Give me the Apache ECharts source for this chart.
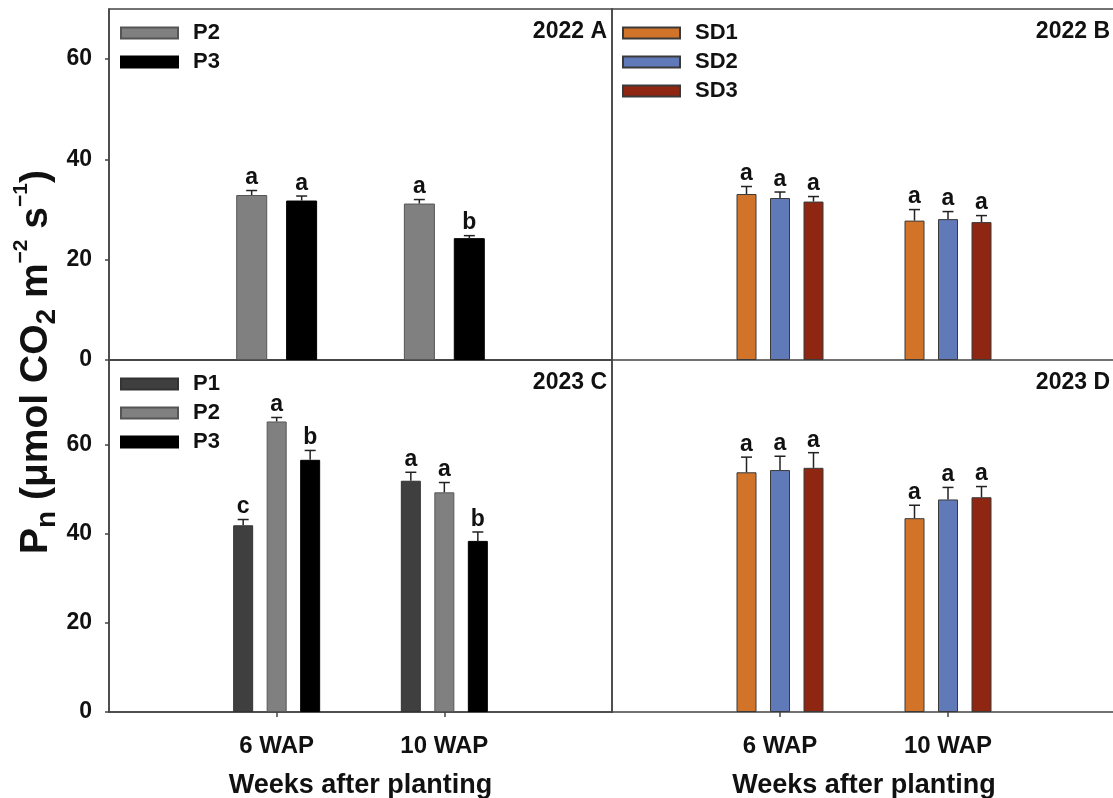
<!DOCTYPE html>
<html>
<head>
<meta charset="utf-8">
<title>Pn by planting and seeding density</title>
<script src="https://cdn.jsdelivr.net/npm/echarts@6/dist/echarts.min.js"></script>
<style>
	html, body { margin: 0; padding: 0; background: #fff; }
	#main { width: 1113px; height: 798px; }
</style>
</head>
<body>
<div id="main"></div>
<script>
// categories (the empty slots put the two dates at 1/3 and 2/3 of each panel)
var weeks = ['6 WAP', '10 WAP'];
var slots = [''].concat(weeks, ['']);
var yTicks = [0, 20, 40, 60];

// 2022 A  (planting)
var a_P2 = [32.9, 31.2], a_P2_err = [0.9, 0.8], a_P2_sig = ['a', 'a'];
var a_P3 = [31.8, 24.3], a_P3_err = [0.9, 0.5], a_P3_sig = ['a', 'b'];
// 2022 B  (seeding density)
var b_SD1 = [33.1, 27.8], b_SD1_err = [1.5, 2.2], b_SD1_sig = ['a', 'a'];
var b_SD2 = [32.3, 28.1], b_SD2_err = [1.2, 1.5], b_SD2_sig = ['a', 'a'];
var b_SD3 = [31.6, 27.5], b_SD3_err = [1.0, 1.3], b_SD3_sig = ['a', 'a'];
// 2023 C
var c_P1 = [41.9, 51.9], c_P1_err = [1.3, 1.9], c_P1_sig = ['c', 'a'];
var c_P2 = [65.2, 49.3], c_P2_err = [0.9, 2.2], c_P2_sig = ['a', 'a'];
var c_P3 = [56.6, 38.4], c_P3_err = [2.1, 2.0], c_P3_sig = ['b', 'b'];
// 2023 D
var d_SD1 = [53.8, 43.5], d_SD1_err = [3.4, 2.9], d_SD1_sig = ['a', 'a'];
var d_SD2 = [54.3, 47.7], d_SD2_err = [3.1, 2.7], d_SD2_sig = ['a', 'a'];
var d_SD3 = [54.8, 48.2], d_SD3_err = [3.4, 2.4], d_SD3_sig = ['a', 'a'];

var FONT = '"Liberation Sans", Arial, sans-serif';
var LINE = '#444';

var colors = {
	P1: '#3f3f3f', P2: '#808080', P3: '#000000',
	SD1: '#d2732a', SD2: '#6079b8', SD3: '#8e2612'
};
var borders = {
	P1: '#333', P2: '#555', P3: '#000',
	SD1: '#3a3a3a', SD2: '#3a3a3a', SD3: '#3a3a3a'
};

function barSeries(name, vals, gi, w, gap) {
	return {
		name: name,
		type: 'bar',
		xAxisIndex: gi,
		yAxisIndex: gi,
		barWidth: w,
		barGap: gap,
		data: ['-'].concat(vals, ['-']),
		itemStyle: { color: colors[name], borderColor: borders[name], borderWidth: 1 },
		emphasis: { disabled: true },
		silent: true
	};
}

function errSeries(vals, errs, sigs, gi, offset) {
	var data = vals.map(function(v, i) { return [i + 1, v, errs[i]]; });
	return {
		type: 'custom',
		xAxisIndex: gi,
		yAxisIndex: gi,
		z: 10,
		silent: true,
		clip: false,
		data: data,
		renderItem: function(params, api) {
			var x = api.value(0), v = api.value(1), e = api.value(2);
			var base = api.coord([x, v]);
			var top = api.coord([x, v + e]);
			var cx = base[0] + offset;
			return {
				type: 'group',
				children: [
					{ type: 'line', shape: { x1: cx, y1: base[1], x2: cx, y2: top[1] }, style: { stroke: '#222', lineWidth: 1.5 } },
					{ type: 'line', shape: { x1: cx - 5.5, y1: top[1], x2: cx + 5.5, y2: top[1] }, style: { stroke: '#222', lineWidth: 1.5 } },
					{ type: 'text', x: cx, y: top[1] - 1, style: {
						text: sigs[params.dataIndex], fill: '#111', align: 'center', verticalAlign: 'bottom',
						font: 'bold 23px ' + FONT
					} }
				]
			};
		}
	};
}

var grids = [
	{ left: 109, top: 9, width: 503, height: 351 },
	{ left: 612, top: 9, width: 504, height: 351 },
	{ left: 109, top: 360, width: 503, height: 352 },
	{ left: 612, top: 360, width: 504, height: 352 }
];
grids.forEach(function(g, i) {
	g.show = (i % 2 === 0); // right panels run off the page, no right frame
	g.borderColor = LINE;
	g.borderWidth = 1.5;
	g.outerBoundsMode = 'none';
});

var xAxes = [0, 1, 2, 3].map(function(i) {
	var bottom = i >= 2;
	return {
		type: 'category',
		gridIndex: i,
		data: slots,
		boundaryGap: false,
		axisLine: { show: true, lineStyle: { color: LINE, width: 1.5 } },
		axisTick: { show: bottom, length: 5, lineStyle: { color: LINE, width: 1.5 },
			interval: function(idx) { return idx === 1 || idx === 2; } },
		axisLabel: { show: bottom, margin: 22, color: '#111', fontFamily: FONT, fontWeight: 'bold', fontSize: 24,
			interval: function(idx) { return idx === 1 || idx === 2; } },
		name: bottom ? 'Weeks after planting' : '',
		nameLocation: 'middle',
		nameGap: 60,
		nameTextStyle: { color: '#111', fontFamily: FONT, fontWeight: 'bold', fontSize: 27 }
	};
});
// top frame of panel B
xAxes.push({
	type: 'category', gridIndex: 1, position: 'top', data: slots, boundaryGap: false,
	axisLine: { show: true, lineStyle: { color: LINE, width: 1.5 } },
	axisTick: { show: false }, axisLabel: { show: false }
});

var yAxes = [0, 1, 2, 3].map(function(i) {
	var left = (i % 2 === 0);
	return {
		type: 'value',
		gridIndex: i,
		min: 0,
		max: i < 2 ? 70 : 79,
		interval: 20,
		splitLine: { show: false },
		axisLine: { show: true, lineStyle: { color: LINE, width: 1.5 } },
		axisTick: { show: left, length: 4, customValues: yTicks, lineStyle: { color: LINE, width: 1.5 } },
		axisLabel: { show: left, margin: 17, customValues: yTicks, color: '#111', fontFamily: FONT, fontWeight: 'bold', fontSize: 23 }
	};
});

var series = [
	// A
	barSeries('P2', a_P2, 0, 31, '61%'),
	barSeries('P3', a_P3, 0, 31, '61%'),
	errSeries(a_P2, a_P2_err, a_P2_sig, 0, -25),
	errSeries(a_P3, a_P3_err, a_P3_sig, 0, 25),
	// B
	barSeries('SD1', b_SD1, 1, 20, '67.5%'),
	barSeries('SD2', b_SD2, 1, 20, '67.5%'),
	barSeries('SD3', b_SD3, 1, 20, '67.5%'),
	errSeries(b_SD1, b_SD1_err, b_SD1_sig, 1, -33.5),
	errSeries(b_SD2, b_SD2_err, b_SD2_sig, 1, 0),
	errSeries(b_SD3, b_SD3_err, b_SD3_sig, 1, 33.5),
	// C
	barSeries('P1', c_P1, 2, 20, '67.5%'),
	barSeries('P2', c_P2, 2, 20, '67.5%'),
	barSeries('P3', c_P3, 2, 20, '67.5%'),
	errSeries(c_P1, c_P1_err, c_P1_sig, 2, -33.5),
	errSeries(c_P2, c_P2_err, c_P2_sig, 2, 0),
	errSeries(c_P3, c_P3_err, c_P3_sig, 2, 33.5),
	// D
	barSeries('SD1', d_SD1, 3, 20, '67.5%'),
	barSeries('SD2', d_SD2, 3, 20, '67.5%'),
	barSeries('SD3', d_SD3, 3, 20, '67.5%'),
	errSeries(d_SD1, d_SD1_err, d_SD1_sig, 3, -33.5),
	errSeries(d_SD2, d_SD2_err, d_SD2_sig, 3, 0),
	errSeries(d_SD3, d_SD3_err, d_SD3_sig, 3, 33.5)
];

function legendAt(names, left, top) {
	return {
		data: names,
		orient: 'vertical',
		left: left,
		top: top,
		padding: 0,
		itemWidth: 57,
		itemHeight: 11,
		itemGap: 7,
		icon: 'rect',
		selectedMode: false,
		textStyle: { color: '#111', fontFamily: FONT, fontWeight: 'bold', fontSize: 22, padding: [0, 0, 0, 10] }
	};
}

function panelTitle(text, right, top) {
	return {
		text: text, right: right, top: top, padding: 0,
		textStyle: { color: '#111', fontFamily: FONT, fontWeight: 'bold', fontSize: 23 }
	};
}

var chart = echarts.init(document.getElementById('main'));
chart.setOption({
	animation: false,
	backgroundColor: '#fff',
	title: [
		panelTitle('2022 A', 506, 20),
		panelTitle('2022 B', 3, 20),
		panelTitle('2023 C', 506, 371),
		panelTitle('2023 D', 3, 371)
	],
	legend: [
		legendAt(['P2', 'P3'], 120, 22),
		legendAt(['SD1', 'SD2', 'SD3'], 622, 22),
		legendAt(['P1', 'P2', 'P3'], 120, 373)
	],
	grid: grids,
	xAxis: xAxes,
	yAxis: yAxes,
	series: series,
	graphic: [{
		type: 'text',
		x: 36,
		y: 362,
		rotation: Math.PI / 2,
		style: {
			text: '{b|P}{sub|n}{b| (μmol CO}{sub|2}{b| m}{sup|−2}{b| s}{sup|−1}{b|)}',
			align: 'center',
			verticalAlign: 'middle',
			fill: '#111',
			rich: {
				b: { fontFamily: FONT, fontWeight: 'bold', fontSize: 39, lineHeight: 50, fill: '#111' },
				sub: { fontFamily: FONT, fontWeight: 'bold', fontSize: 28, lineHeight: 30, verticalAlign: 'bottom', fill: '#111' },
				sup: { fontFamily: FONT, fontWeight: 'bold', fontSize: 21, lineHeight: 24, verticalAlign: 'top', fill: '#111' }
			}
		}
	}]
});
</script>
</body>
</html>
